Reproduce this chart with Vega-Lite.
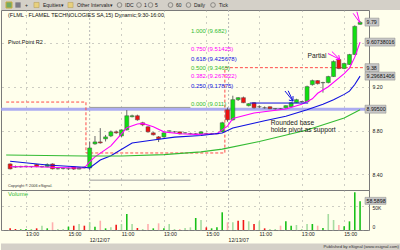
{
  "$schema": "https://vega.github.io/schema/vega-lite/v6.json",
  "background": "#ffffec",
  "padding": 0,
  "spacing": 0,
  "bounds": "flush",
  "config": {
    "font": "Liberation Sans",
    "view": {"stroke": "#7a7a7a", "strokeWidth": 1},
    "text": {"font": "Liberation Sans"},
    "axis": {"labelFont": "Liberation Sans", "tickSize": 0}
  },
  "resolve": {"scale": {"x": "independent", "y": "independent", "color": "independent"}},
  "datasets": {
    "bars": [
      {"t":11,"o":8.495,"h":8.50,"l":8.445,"c":8.45,"v":3400,"k":"d"},
      {"t":12,"o":8.47,"h":8.48,"l":8.46,"c":8.466,"v":2000,"k":"d"},
      {"t":13,"o":8.468,"h":8.478,"l":8.462,"c":8.472,"v":1400,"k":"u"},
      {"t":14,"o":8.47,"h":8.48,"l":8.465,"c":8.474,"v":2000,"k":"u"},
      {"t":15,"o":8.47,"h":8.476,"l":8.46,"c":8.472,"v":1000,"k":"u"},
      {"t":16,"o":8.49,"h":8.495,"l":8.465,"c":8.47,"v":3400,"k":"d"},
      {"t":17,"o":8.468,"h":8.478,"l":8.462,"c":8.472,"v":8800,"k":"ul"},
      {"t":18,"o":8.47,"h":8.50,"l":8.465,"c":8.49,"v":3400,"k":"u"},
      {"t":19,"o":8.495,"h":8.50,"l":8.445,"c":8.45,"v":15700,"k":"dl"},
      {"t":20,"o":8.45,"h":8.46,"l":8.445,"c":8.452,"v":2000,"k":"ul"},
      {"t":21,"o":8.452,"h":8.46,"l":8.445,"c":8.454,"v":2000,"k":"ul"},
      {"t":22,"o":8.45,"h":8.458,"l":8.44,"c":8.452,"v":6800,"k":"u"},
      {"t":23,"o":8.468,"h":8.47,"l":8.44,"c":8.448,"v":8800,"k":"d"},
      {"t":24,"o":8.448,"h":8.465,"l":8.445,"c":8.46,"v":12200,"k":"ul"},
      {"t":25,"o":8.466,"h":8.47,"l":8.455,"c":8.458,"v":8800,"k":"d"},
      {"t":26,"o":8.458,"h":8.70,"l":8.44,"c":8.641,"v":15700,"k":"ul"},
      {"t":27,"o":8.678,"h":8.75,"l":8.67,"c":8.696,"v":6800,"k":"u"},
      {"t":28,"o":8.696,"h":8.822,"l":8.68,"c":8.687,"v":19000,"k":"dl"},
      {"t":29,"o":8.724,"h":8.76,"l":8.70,"c":8.742,"v":3400,"k":"u"},
      {"t":30,"o":8.751,"h":8.80,"l":8.74,"c":8.788,"v":5400,"k":"ul"},
      {"t":31,"o":8.788,"h":8.80,"l":8.77,"c":8.779,"v":10900,"k":"d"},
      {"t":32,"o":8.751,"h":8.81,"l":8.74,"c":8.806,"v":12200,"k":"ul"},
      {"t":33,"o":8.806,"h":8.987,"l":8.80,"c":8.935,"v":32700,"k":"u"},
      {"t":34,"o":8.926,"h":8.945,"l":8.92,"c":8.935,"v":12200,"k":"ul"},
      {"t":35,"o":8.935,"h":8.945,"l":8.89,"c":8.898,"v":4100,"k":"d"},
      {"t":36,"o":8.871,"h":8.88,"l":8.84,"c":8.852,"v":2000,"k":"ul"},
      {"t":37,"o":8.834,"h":8.84,"l":8.78,"c":8.788,"v":12200,"k":"dl"},
      {"t":38,"o":8.779,"h":8.785,"l":8.755,"c":8.761,"v":3400,"k":"u"},
      {"t":39,"o":8.742,"h":8.75,"l":8.695,"c":8.724,"v":13600,"k":"dl"},
      {"t":40,"o":8.742,"h":8.785,"l":8.735,"c":8.779,"v":3400,"k":"u"},
      {"t":41,"o":8.795,"h":8.80,"l":8.79,"c":8.797,"v":12200,"k":"ul"},
      {"t":42,"o":8.788,"h":8.795,"l":8.78,"c":8.788,"v":2000,"k":"ul"},
      {"t":43,"o":8.788,"h":8.79,"l":8.765,"c":8.77,"v":2000,"k":"dl"},
      {"t":44,"o":8.779,"h":8.785,"l":8.772,"c":8.779,"v":4100,"k":"ul"},
      {"t":45,"o":8.772,"h":8.78,"l":8.765,"c":8.772,"v":5400,"k":"ul"},
      {"t":46,"o":8.77,"h":8.778,"l":8.762,"c":8.77,"v":24500,"k":"u"},
      {"t":47,"o":8.77,"h":8.79,"l":8.765,"c":8.788,"v":20400,"k":"ul"},
      {"t":48,"o":8.772,"h":8.78,"l":8.765,"c":8.77,"v":5400,"k":"d"},
      {"t":49,"o":8.77,"h":8.778,"l":8.765,"c":8.772,"v":3400,"k":"u"},
      {"t":50,"o":8.77,"h":8.778,"l":8.765,"c":8.772,"v":5400,"k":"u"},
      {"t":51,"o":8.788,"h":8.88,"l":8.785,"c":8.871,"v":36100,"k":"u"},
      {"t":52,"o":8.99,"h":9.01,"l":8.88,"c":8.898,"v":15700,"k":"dl"},
      {"t":53,"o":8.898,"h":9.118,"l":8.89,"c":9.082,"v":15700,"k":"ul"},
      {"t":54,"o":9.082,"h":9.105,"l":9.07,"c":9.10,"v":19000,"k":"d"},
      {"t":55,"o":9.10,"h":9.11,"l":9.05,"c":9.054,"v":20400,"k":"d"},
      {"t":56,"o":9.027,"h":9.05,"l":9.02,"c":9.045,"v":17700,"k":"ul"},
      {"t":57,"o":9.054,"h":9.06,"l":9.00,"c":9.008,"v":12200,"k":"d"},
      {"t":58,"o":9.017,"h":9.03,"l":9.005,"c":9.017,"v":17700,"k":"ul"},
      {"t":59,"o":9.008,"h":9.02,"l":9.00,"c":9.008,"v":3400,"k":"d"},
      {"t":60,"o":9.017,"h":9.02,"l":8.995,"c":8.999,"v":2000,"k":"ul"},
      {"t":61,"o":8.999,"h":9.005,"l":8.99,"c":9.0,"v":2000,"k":"ul"},
      {"t":62,"o":8.999,"h":9.005,"l":8.99,"c":8.999,"v":8800,"k":"dl"},
      {"t":63,"o":9.008,"h":9.03,"l":9.0,"c":9.027,"v":17700,"k":"u"},
      {"t":64,"o":9.017,"h":9.06,"l":9.01,"c":9.054,"v":8800,"k":"u"},
      {"t":65,"o":9.054,"h":9.09,"l":9.05,"c":9.082,"v":10200,"k":"ul"},
      {"t":66,"o":9.063,"h":9.07,"l":9.055,"c":9.065,"v":2000,"k":"ul"},
      {"t":67,"o":9.063,"h":9.21,"l":9.06,"c":9.201,"v":12200,"k":"ul"},
      {"t":68,"o":9.219,"h":9.265,"l":9.21,"c":9.256,"v":12200,"k":"u"},
      {"t":69,"o":9.256,"h":9.26,"l":9.22,"c":9.228,"v":8800,"k":"dl"},
      {"t":70,"o":9.236,"h":9.245,"l":9.146,"c":9.238,"v":4100,"k":"u"},
      {"t":71,"o":9.238,"h":9.30,"l":9.23,"c":9.293,"v":32700,"k":"ul"},
      {"t":72,"o":9.293,"h":9.44,"l":9.29,"c":9.43,"v":20400,"k":"ul"},
      {"t":73,"o":9.449,"h":9.46,"l":9.36,"c":9.366,"v":10200,"k":"dl"},
      {"t":74,"o":9.366,"h":9.42,"l":9.36,"c":9.412,"v":7500,"k":"u"},
      {"t":75,"o":9.403,"h":9.50,"l":9.40,"c":9.494,"v":17700,"k":"u"},
      {"t":76,"o":9.494,"h":9.76,"l":9.49,"c":9.751,"v":77000,"k":"u"},
      {"t":77,"o":9.77,"h":9.80,"l":9.765,"c":9.788,"v":58600,"k":"u"}
    ],
    "ma": [
      {"t":11,"p":8.469,"s":"fast"},{"t":16,"p":8.469,"s":"fast"},{"t":20,"p":8.462,"s":"fast"},{"t":24,"p":8.458,"s":"fast"},{"t":25,"p":8.46,"s":"fast"},{"t":26,"p":8.513,"s":"fast"},{"t":27,"p":8.56,"s":"fast"},{"t":30,"p":8.66,"s":"fast"},{"t":33,"p":8.825,"s":"fast"},{"t":35,"p":8.86,"s":"fast"},{"t":36,"p":8.865,"s":"fast"},{"t":38,"p":8.834,"s":"fast"},{"t":40,"p":8.788,"s":"fast"},{"t":43,"p":8.77,"s":"fast"},{"t":46,"p":8.765,"s":"fast"},{"t":50,"p":8.77,"s":"fast"},{"t":51,"p":8.806,"s":"fast"},{"t":52,"p":8.84,"s":"fast"},{"t":53,"p":8.91,"s":"fast"},{"t":57,"p":8.96,"s":"fast"},{"t":63,"p":8.996,"s":"fast"},{"t":66,"p":9.04,"s":"fast"},{"t":68,"p":9.09,"s":"fast"},{"t":69,"p":9.14,"s":"fast"},{"t":71,"p":9.20,"s":"fast"},{"t":74,"p":9.32,"s":"fast"},{"t":75,"p":9.37,"s":"fast"},{"t":76,"p":9.47,"s":"fast"},{"t":77,"p":9.607,"s":"fast"},
      {"t":11,"p":8.52,"s":"mid"},{"t":18,"p":8.485,"s":"mid"},{"t":25,"p":8.465,"s":"mid"},{"t":26,"p":8.458,"s":"mid"},{"t":28,"p":8.53,"s":"mid"},{"t":30,"p":8.57,"s":"mid"},{"t":34,"p":8.686,"s":"mid"},{"t":38,"p":8.713,"s":"mid"},{"t":42,"p":8.74,"s":"mid"},{"t":47,"p":8.755,"s":"mid"},{"t":51,"p":8.777,"s":"mid"},{"t":52,"p":8.80,"s":"mid"},{"t":53,"p":8.823,"s":"mid"},{"t":59,"p":8.89,"s":"mid"},{"t":63,"p":8.93,"s":"mid"},{"t":67,"p":8.99,"s":"mid"},{"t":70,"p":9.04,"s":"mid"},{"t":72,"p":9.08,"s":"mid"},{"t":74,"p":9.13,"s":"mid"},{"t":75,"p":9.16,"s":"mid"},{"t":76,"p":9.22,"s":"mid"},{"t":77,"p":9.297,"s":"mid"},
      {"t":10.25,"p":8.576,"s":"slow"},{"t":25,"p":8.568,"s":"slow"},{"t":32,"p":8.568,"s":"slow"},{"t":40,"p":8.58,"s":"slow"},{"t":47,"p":8.605,"s":"slow"},{"t":51,"p":8.63,"s":"slow"},{"t":58,"p":8.70,"s":"slow"},{"t":67,"p":8.805,"s":"slow"},{"t":74,"p":8.914,"s":"slow"},{"t":77,"p":8.99,"s":"slow"}
    ],
    "r2": [
      {"t":10.25,"p":9.06},{"t":25.3,"p":8.595},{"t":51.5,"p":9.374},{"t":77.74,"p":9.374}
    ],
    "fib": [
      {"lab":"1.000 (9.682)","p":9.682,"g":"1.000"},
      {"lab":"0.750 (9.51425)","p":9.51425,"g":"0.750"},
      {"lab":"0.618 (9.425678)","p":9.425678,"g":"0.618"},
      {"lab":"0.500 (9.3465)","p":9.3465,"g":"0.500"},
      {"lab":"0.382 (9.267322)","p":9.267322,"g":"0.382"},
      {"lab":"0.250 (9.17875)","p":9.17875,"g":"0.250"},
      {"lab":"0.000 (9.011)","p":9.011,"g":"0.000"}
    ],
    "fibln": [
      {"t":26,"t2":45,"p":9.011},
      {"t":26,"t2":45,"p":8.347}
    ],
    "days": [{"t":26},{"t":52.2}],
    "arrows": [
      {"t":70.95,"p":9.503,"t2":73.16,"p2":9.45,"g":"red"},
      {"t":71.69,"p":9.521,"t2":73.16,"p2":9.45,"g":"red"},
      {"t":72.42,"p":9.448,"t2":73.16,"p2":9.45,"g":"red"},
      {"t":72.97,"p":9.489,"t2":73.16,"p2":9.45,"g":"red"},
      {"t":75.7,"p":9.87,"t2":76.95,"p2":9.785,"g":"red"},
      {"t":76.4,"p":9.885,"t2":76.95,"p2":9.785,"g":"red"},
      {"t":62.83,"p":9.161,"t2":64.35,"p2":9.069,"g":"blue"},
      {"t":63.44,"p":9.163,"t2":64.35,"p2":9.069,"g":"blue"},
      {"t":63.57,"p":9.078,"t2":64.35,"p2":9.069,"g":"blue"},
      {"t":64.35,"p":9.115,"t2":64.35,"p2":9.069,"g":"blue"},
      {"t":56.2,"p":9.051,"t2":67.2,"p2":9.051,"g":"blue"}
    ],
    "notes": [
      {"txt":"Rounded base","t":60.13,"p":8.868},
      {"txt":"holds pivot as support","t":60.13,"p":8.805},
      {"txt":"Partial","t":67.1,"p":9.485}
    ],
    "heads": [
      {"txt":"(FLML - FLAMEL TECHNOLOGIES SA,15) Dynamic;9:30-16:00","t":10.59,"p":9.855},
      {"txt":"Pivot Point R2","t":10.59,"p":9.608}
    ],
    "boxes": [
      {"lab":"9.79","p":9.79},
      {"lab":"9.60738016","p":9.60738},
      {"lab":"9.38","p":9.374},
      {"lab":"9.29681406","p":9.296814},
      {"lab":"8.99500","p":8.995}
    ],
    "tool": [
      {"pos":8,"txt":"","kind":"app"},
      {"pos":17,"txt":"","kind":"tool"},
      {"pos":35.5,"txt":"","kind":"folder"},
      {"pos":69.5,"txt":"","kind":"folder"},
      {"pos":118.5,"txt":"","kind":"circle"},
      {"pos":138,"txt":"","kind":"circle"},
      {"pos":149.5,"txt":"","kind":"circle"},
      {"pos":169.5,"txt":"","kind":"circle"},
      {"pos":187.5,"txt":"","kind":"circle"},
      {"pos":212,"txt":"","kind":"circle"},
      {"pos":24,"txt":"+","kind":"text"},
      {"pos":42,"txt":"Equities","kind":"text"},
      {"pos":60,"txt":"▾","kind":"text"},
      {"pos":76,"txt":"Other Intervals","kind":"text"},
      {"pos":109,"txt":"▾","kind":"text"},
      {"pos":124,"txt":"IDC","kind":"text"},
      {"pos":143,"txt":"1","kind":"text"},
      {"pos":154,"txt":"5","kind":"text"},
      {"pos":175,"txt":"60","kind":"text"},
      {"pos":193,"txt":"Daily","kind":"text"},
      {"pos":218,"txt":"Tick","kind":"text"}
    ]
  },
  "vconcat": [
    {
      "width": 400,
      "height": 10,
      "view": {"fill": "#d4d0c8", "stroke": null},
      "data": {"name": "tool"},
      "encoding": {
        "x": {"field": "pos", "type": "quantitative", "scale": {"domain": [0, 400], "nice": false, "zero": false}, "axis": null}
      },
      "layer": [
        {"transform": [{"filter": "datum.kind == 'app'"}], "mark": {"type": "square", "size": 36, "filled": true, "color": "#4a9a3a", "stroke": "#c8a000", "strokeWidth": 1, "clip": true}},
        {"transform": [{"filter": "datum.kind == 'tool'"}], "mark": {"type": "square", "size": 28, "filled": true, "color": "#555566", "clip": true}},
        {"transform": [{"filter": "datum.kind == 'folder'"}], "mark": {"type": "square", "size": 26, "filled": true, "color": "#f0d060", "stroke": "#a08020", "strokeWidth": 0.5, "clip": true}},
        {"transform": [{"filter": "datum.kind == 'circle'"}], "mark": {"type": "circle", "size": 22, "filled": false, "color": "#444444", "strokeWidth": 0.7, "clip": true}},
        {"transform": [{"filter": "datum.kind == 'text'"}], "mark": {"type": "text", "align": "left", "baseline": "middle", "fontSize": 5, "color": "#222222"}, "encoding": {"text": {"field": "txt"}}}
      ]
    },
    {
      "width": 368,
      "height": 180,
      "view": {"fill": "#ffffec"},
      "layer": [
        {
          "data": {"name": "days"},
          "mark": {"type": "rule", "color": "#b8b8b8", "strokeDash": [2, 2], "strokeWidth": 1, "clip": true},
          "encoding": {
            "x": {"field": "t", "type": "quantitative", "scale": {"domain": [10.22, 77.74], "nice": false, "zero": false},
                  "axis": {"orient": "bottom", "values": [14,18,22,28,32,36,40,44,48,54,58,62,66,70,74], "grid": true, "gridDash": [1, 5], "gridColor": "#9a9a9a", "labels": false, "ticks": false, "tickSize": 0, "labelPadding": 0, "domain": false, "title": null}}
          }
        },
        {
          "data": {"values": [{}]},
          "mark": {"type": "rule", "color": "#9d9df2", "strokeWidth": 3, "opacity": 0.85, "clip": true},
          "encoding": {
            "y": {"datum": 8.995, "type": "quantitative", "scale": {"domain": [8.257, 9.9005], "nice": false, "zero": false},
                  "axis": {"orient": "right", "values": [8.4, 8.6, 8.8, 9.0, 9.2, 9.4, 9.6, 9.8], "grid": true, "gridDash": [1, 5], "gridColor": "#9a9a9a", "ticks": false, "tickSize": 0, "domain": false, "labelFontSize": 5.2, "labelColor": "#222222", "labelPadding": 3, "title": null,
                           "labelExpr": "indexof([8.4, 8.6, 8.8, 9.2], round(datum.value * 10) / 10) >= 0 ? format(datum.value, '.2f') : ''"}}
          }
        },
        {
          "data": {"name": "fibln"},
          "mark": {"type": "rule", "color": "#9a9a9a", "strokeWidth": 1, "clip": true},
          "encoding": {
            "x": {"field": "t", "type": "quantitative"},
            "x2": {"field": "t2"},
            "y": {"field": "p", "type": "quantitative"}
          }
        },
        {
          "data": {"name": "r2"},
          "mark": {"type": "line", "interpolate": "step-after", "color": "#ff4a4a", "strokeDash": [3, 2], "strokeWidth": 1, "clip": true},
          "encoding": {
            "x": {"field": "t", "type": "quantitative"},
            "y": {"field": "p", "type": "quantitative"}
          }
        },
        {
          "data": {"name": "bars"},
          "mark": {"type": "rule", "color": "#6a6a6a", "strokeWidth": 1},
          "encoding": {
            "x": {"field": "t", "type": "quantitative"},
            "y": {"field": "l", "type": "quantitative"},
            "y2": {"field": "h"}
          }
        },
        {
          "data": {"name": "bars"},
          "mark": {"type": "bar", "size": 4, "stroke": "#505050", "strokeWidth": 0.5},
          "encoding": {
            "x": {"field": "t", "type": "quantitative"},
            "y": {"field": "o", "type": "quantitative"},
            "y2": {"field": "c"},
            "color": {"condition": {"test": "datum.c >= datum.o", "value": "#10e010"}, "value": "#f01010"}
          }
        },
        {
          "data": {"name": "ma"},
          "mark": {"type": "line", "strokeWidth": 1.1, "clip": true},
          "encoding": {
            "x": {"field": "t", "type": "quantitative"},
            "y": {"field": "p", "type": "quantitative"},
            "color": {"field": "s", "type": "nominal", "scale": {"domain": ["fast", "mid", "slow"], "range": ["#ff00ff", "#1010e0", "#33bb33"]}, "legend": null},
            "detail": {"field": "s"}
          }
        },
        {
          "data": {"name": "arrows"},
          "mark": {"type": "rule", "strokeWidth": 1, "clip": true},
          "encoding": {
            "x": {"field": "t", "type": "quantitative"},
            "x2": {"field": "t2"},
            "y": {"field": "p", "type": "quantitative"},
            "y2": {"field": "p2"},
            "color": {"field": "g", "type": "nominal", "scale": {"domain": ["red", "blue"], "range": ["#ff2020", "#2a2ad8"]}, "legend": null}
          }
        },
        {
          "data": {"name": "fib"},
          "mark": {"type": "text", "align": "left", "baseline": "bottom", "fontSize": 6},
          "encoding": {
            "x": {"datum": 45.1, "type": "quantitative"},
            "y": {"field": "p", "type": "quantitative"},
            "text": {"field": "lab"},
            "color": {"field": "g", "type": "nominal", "scale": {"domain": ["1.000", "0.750", "0.618", "0.500", "0.382", "0.250", "0.000"], "range": ["#34348a", "#8e3434", "#2f862f", "#7a347e", "#8e3434", "#2f862f", "#3a3a6a"]}, "legend": null}
          }
        },
        {
          "data": {"name": "notes"},
          "mark": {"type": "text", "align": "left", "baseline": "middle", "fontSize": 6.7, "color": "#1a1a1a"},
          "encoding": {
            "x": {"field": "t", "type": "quantitative"},
            "y": {"field": "p", "type": "quantitative"},
            "text": {"field": "txt"}
          }
        },
        {
          "data": {"name": "heads"},
          "mark": {"type": "text", "align": "left", "baseline": "middle", "fontSize": 5.5, "color": "#111111"},
          "encoding": {
            "x": {"field": "t", "type": "quantitative"},
            "y": {"field": "p", "type": "quantitative"},
            "text": {"field": "txt"}
          }
        },
        {
          "data": {"values": [{"txt": "Copyright © 2006 eSignal.", "t": 10.59, "p": 8.29}]},
          "mark": {"type": "text", "align": "left", "baseline": "middle", "fontSize": 3.8, "color": "#333333"},
          "encoding": {
            "x": {"field": "t", "type": "quantitative"},
            "y": {"field": "p", "type": "quantitative"},
            "text": {"field": "txt"}
          }
        },
        {
          "data": {"name": "boxes"},
          "transform": [{"filter": "length(datum.lab) <= 4"}],
          "mark": {"type": "rect", "color": "#c6c6c6", "stroke": "#8a8a8a", "strokeWidth": 0.5, "x2Offset": 14, "yOffset": -4, "y2Offset": 4, "clip": false},
          "encoding": {
            "x": {"datum": 77.93, "type": "quantitative"},
            "x2": {"datum": 77.93},
            "y": {"field": "p", "type": "quantitative"},
            "y2": {"field": "p"}
          }
        },
        {
          "data": {"name": "boxes"},
          "transform": [{"filter": "length(datum.lab) == 7"}],
          "mark": {"type": "rect", "color": "#c6c6c6", "stroke": "#8a8a8a", "strokeWidth": 0.5, "x2Offset": 21, "yOffset": -4, "y2Offset": 4, "clip": false},
          "encoding": {
            "x": {"datum": 77.93, "type": "quantitative"},
            "x2": {"datum": 77.93},
            "y": {"field": "p", "type": "quantitative"},
            "y2": {"field": "p"}
          }
        },
        {
          "data": {"name": "boxes"},
          "transform": [{"filter": "length(datum.lab) >= 10"}],
          "mark": {"type": "rect", "color": "#c6c6c6", "stroke": "#8a8a8a", "strokeWidth": 0.5, "x2Offset": 30, "yOffset": -4, "y2Offset": 4, "clip": false},
          "encoding": {
            "x": {"datum": 77.93, "type": "quantitative"},
            "x2": {"datum": 77.93},
            "y": {"field": "p", "type": "quantitative"},
            "y2": {"field": "p"}
          }
        },
        {
          "data": {"name": "boxes"},
          "mark": {"type": "text", "align": "left", "baseline": "middle", "fontSize": 5.3, "color": "#111111", "dx": 1.5, "clip": false},
          "encoding": {
            "x": {"datum": 77.93, "type": "quantitative"},
            "y": {"field": "p", "type": "quantitative"},
            "text": {"field": "lab"}
          }
        }
      ]
    },
    {
      "width": 368,
      "height": 40,
      "view": {"fill": "#ffffec"},
      "layer": [
        {
          "data": {"name": "days"},
          "mark": {"type": "rule", "color": "#b8b8b8", "strokeDash": [2, 2], "strokeWidth": 1, "clip": true},
          "encoding": {
            "x": {"field": "t", "type": "quantitative", "scale": {"domain": [10.22, 77.74], "nice": false, "zero": false},
                  "axis": {"orient": "bottom", "values": [14,18,22,28,32,36,40,44,48,54,58,62,66,70,74], "grid": true, "gridDash": [1, 5], "gridColor": "#9a9a9a", "ticks": false, "tickSize": 0, "domain": false, "title": null, "labelFontSize": 5.2, "labelColor": "#222222", "labelPadding": 1, "labelOffset": 6,
                           "labelExpr": "(9.5 + (datum.value % 26) / 4) + ':00'"}}
          }
        },
        {
          "data": {"name": "bars"},
          "mark": {"type": "bar", "size": 1.6},
          "encoding": {
            "x": {"field": "t", "type": "quantitative"},
            "y": {"field": "v", "type": "quantitative", "scale": {"domain": [0, 81640], "nice": false, "zero": true},
                  "axis": {"orient": "right", "values": [0, 50000], "grid": true, "gridDash": [1, 5], "gridColor": "#9a9a9a", "ticks": false, "tickSize": 0, "domain": false, "title": null, "labelFontSize": 5, "labelColor": "#222222", "labelPadding": 3,
                           "labelOffset": {"condition": {"test": "datum.value == 0", "value": -4}, "value": 2},
                           "labelExpr": "datum.value == 0 ? '0' : '50K'"}},
            "color": {"field": "k", "type": "nominal", "scale": {"domain": ["u", "d", "ul", "dl"], "range": ["#18c018", "#f01818", "#a6dca0", "#ffaeae"]}, "legend": null}
          }
        },
        {
          "data": {"values": [{"txt": "Volume", "t": 10.59, "v": 73500}]},
          "mark": {"type": "text", "align": "left", "baseline": "middle", "fontSize": 6, "color": "#33bb33"},
          "encoding": {
            "x": {"field": "t", "type": "quantitative"},
            "y": {"field": "v", "type": "quantitative"},
            "text": {"field": "txt"}
          }
        },
        {
          "data": {"values": [{"lab": "58.5898", "v": 59500}]},
          "mark": {"type": "rect", "color": "#c6c6c6", "stroke": "#8a8a8a", "strokeWidth": 0.5, "x2Offset": 21, "yOffset": -3.5, "y2Offset": 3.5, "clip": false},
          "encoding": {
            "x": {"datum": 77.93, "type": "quantitative"},
            "x2": {"datum": 77.93},
            "y": {"field": "v", "type": "quantitative"},
            "y2": {"field": "v"}
          }
        },
        {
          "data": {"values": [{"lab": "58.5898", "v": 59500}]},
          "mark": {"type": "text", "align": "left", "baseline": "middle", "fontSize": 5.3, "color": "#111111", "dx": 1.5, "clip": false},
          "encoding": {
            "x": {"datum": 77.93, "type": "quantitative"},
            "y": {"field": "v", "type": "quantitative"},
            "text": {"field": "lab"}
          }
        },
        {
          "data": {"values": [{"txt": "12/12/07", "t": 26, "v": -20400}, {"txt": "12/13/07", "t": 52.2, "v": -20400}]},
          "mark": {"type": "text", "align": "left", "baseline": "middle", "fontSize": 5.2, "color": "#222222", "clip": false},
          "encoding": {
            "x": {"field": "t", "type": "quantitative"},
            "y": {"field": "v", "type": "quantitative"},
            "text": {"field": "txt"}
          }
        }
      ]
    },
    {
      "width": 400,
      "height": 20,
      "view": {"stroke": null},
      "data": {"values": [{"pos": 398, "lvl": 3, "txt": "Published by eSignal (www.esignal.com)"}]},
      "layer": [
        {
          "mark": {"type": "rect", "color": "#d4d0c8"},
          "encoding": {
            "x": {"datum": 0, "type": "quantitative", "scale": {"domain": [0, 400], "nice": false, "zero": false}, "axis": null},
            "x2": {"datum": 400},
            "y": {"datum": 0, "type": "quantitative", "scale": {"domain": [0, 20], "nice": false, "zero": false}, "axis": null},
            "y2": {"datum": 6.5}
          }
        },
        {
          "mark": {"type": "text", "align": "right", "baseline": "middle", "fontSize": 4.2, "color": "#333333"},
          "encoding": {
            "x": {"field": "pos", "type": "quantitative"},
            "y": {"field": "lvl", "type": "quantitative"},
            "text": {"field": "txt"}
          }
        }
      ]
    }
  ]
}
